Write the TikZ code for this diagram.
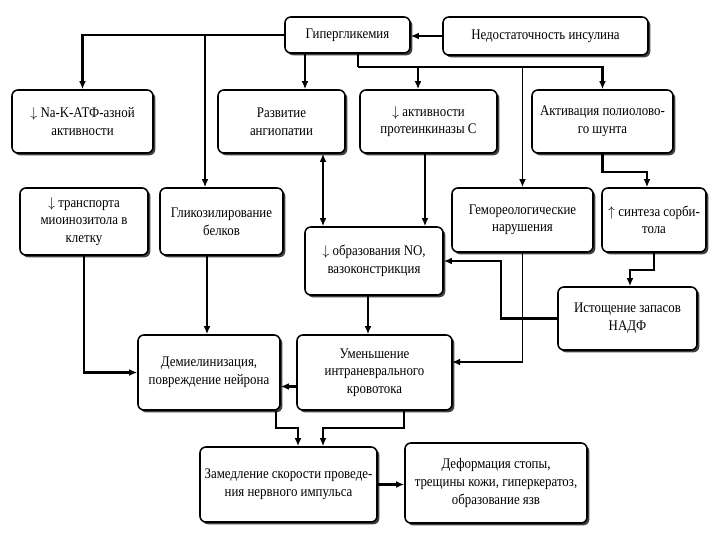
\documentclass[tikz,border=0pt]{standalone}
\usepackage{fontspec}
\setmainfont{Liberation Serif}[FakeStretch=0.88]
\usetikzlibrary{
    positioning,  % For placing nodes relative to each other
    arrows.meta,  % For modern arrow tips
    shadows       % For the drop shadows of the boxes
}

\begin{document}
\begin{tikzpicture}[
    % Global settings: one unit is one pixel of the 720x540 page
    x=0.03cm, y=-0.03cm,
    % Style for the rounded boxes
    box_style/.style={
        draw,
        line width=1.3pt,
        rounded corners=5pt,
        fill=white,
        align=center,
        inner sep=2pt,
        font=\fontsize{12.5}{15}\selectfont,
        drop shadow={shadow xshift=2pt, shadow yshift=-2pt, fill=black!75, opacity=1}
    },
    % Style for arrowheads
    arrow_tip/.style={
        -{Latex[length=2.4mm, width=2mm]}
    },
    arrow_both/.style={
        {Latex[length=2.4mm, width=2mm]}-{Latex[length=2.4mm, width=2mm]}
    },
    % Styles for the connectors
    main_line/.style={line width=2pt},
    thin_line/.style={line width=1.5pt}
]
    \useasboundingbox (0,0) rectangle (720,540);

    % 1. Top row of boxes
    \node[box_style, minimum width=3.75cm, minimum height=1.08cm] (hyper) at (347.5,35) {Гипергликемия};
    \node[box_style, minimum width=6.15cm, minimum height=1.14cm] (insul) at (545.5,36) {Недостаточность инсулина};

    \node[box_style, minimum width=4.23cm, minimum height=1.89cm] (nak) at (82.5,121.5) {$\downarrow$ Na-K-АТФ-азной \\ активности};
    \node[box_style, minimum width=3.81cm, minimum height=1.89cm] (angio) at (281.5,121.5) {Развитие \\ ангиопатии};
    \node[box_style, minimum width=4.11cm, minimum height=1.89cm] (pkc) at (428.5,121.5) {$\downarrow$ активности \\ протеинкиназы С};
    \node[box_style, minimum width=4.23cm, minimum height=1.89cm] (poliol) at (602.5,121.5) {Активация полиолово- \\ го шунта};

    % 2. Middle boxes
    \node[box_style, minimum width=3.84cm, minimum height=2.01cm] (mio) at (84,221.5) {$\downarrow$ транспорта \\ миоинозитола в \\ клетку};
    \node[box_style, minimum width=3.69cm, minimum height=2.01cm] (glyc) at (221.5,221.5) {Гликозилирование \\ белков};
    \node[box_style, minimum width=4.14cm, minimum height=2.04cm] (no) at (374,261) {$\downarrow$ образования NO, \\ вазоконстрикция};
    \node[box_style, minimum width=4.23cm, minimum height=1.92cm] (hemo) at (522.5,220) {Гемореологические \\ нарушения};
    \node[box_style, minimum width=3.12cm, minimum height=1.92cm] (sorb) at (654,220) {$\uparrow$ синтеза сорби- \\ тола};
    \node[box_style, minimum width=4.17cm, minimum height=1.89cm] (nadf) at (627.5,318.5) {Истощение запасов \\ НАДФ};

    % 3. Bottom boxes
    \node[box_style, minimum width=4.26cm, minimum height=2.25cm] (demi) at (209,372.5) {Демиелинизация, \\ повреждение нейрона};
    \node[box_style, minimum width=4.65cm, minimum height=2.25cm] (flow) at (374.5,372.5) {Уменьшение \\ интраневрального \\ кровотока};
    \node[box_style, minimum width=5.31cm, minimum height=2.25cm] (slow) at (288.5,484.5) {Замедление скорости проведе- \\ ния нервного импульса};
    \node[box_style, minimum width=5.46cm, minimum height=2.40cm] (deform) at (496,483) {Деформация стопы, \\ трещины кожи, гиперкератоз, \\ образование язв};

    % 4. Helper coordinates for the bends and the off-centre connectors
    \coordinate (glyc_x) at (205,0);
    \coordinate (angio_x) at (305,0);
    \coordinate (trunk) at (358,67);
    \coordinate (pkc_x) at (418,0);
    \coordinate (vaso_x) at (323,0);
    \coordinate (pkc_no_x) at (425,0);
    \coordinate (sorb_bend) at (647,172);
    \coordinate (nadf_bend) at (630,270);
    \coordinate (no_bend) at (501,261);
    \coordinate (flow_in) at (452,362);
    \coordinate (no_x) at (368,0);
    \coordinate (demi_x) at (207,0);
    \coordinate (slow_a) at (276,428);
    \coordinate (slow_a_in) at (298,428);
    \coordinate (slow_b) at (404,428);
    \coordinate (slow_b_in) at (323,428);

    % 5. Connectors from the top row
    \draw[thin_line, arrow_tip] (insul.west) -- (insul.west -| hyper.east);
    \draw[main_line, arrow_tip] (hyper.west) -| (nak.north);
    \draw[main_line, arrow_tip] (hyper.west -| glyc_x) -- (glyc.north -| glyc_x);
    \draw[main_line, arrow_tip] (hyper.south -| angio_x) -- (angio.north -| angio_x);
    \draw[thin_line] (hyper.south -| trunk) -- (trunk);
    \draw[main_line, arrow_tip] (trunk) -| (poliol.north);
    \draw[main_line, arrow_tip] (trunk -| pkc_x) -- (pkc.north -| pkc_x);
    \draw[thin_line, arrow_tip] (trunk -| hemo.north) -- (hemo.north);

    % 6. Connectors in the middle
    \draw[main_line, arrow_both] (angio.south -| vaso_x) -- (no.north -| vaso_x);
    \draw[main_line, arrow_tip] (pkc.south -| pkc_no_x) -- (no.north -| pkc_no_x);
    \draw[main_line, arrow_tip] (poliol.south) |- (sorb_bend) -- (sorb_bend |- sorb.north);
    \draw[main_line, arrow_tip] (sorb.south) |- (nadf_bend) -- (nadf_bend |- nadf.north);
    \draw[main_line, arrow_tip] (nadf.west) -| (no_bend) -- (no_bend -| no.east);
    \draw[thin_line, arrow_tip] (hemo.south) |- (flow_in);
    \draw[main_line, arrow_tip] (no.south -| no_x) -- (flow.north -| no_x);
    \draw[main_line, arrow_tip] (mio.south) |- (demi.west);
    \draw[main_line, arrow_tip] (glyc.south -| demi_x) -- (demi.north -| demi_x);
    \draw[main_line, arrow_tip] ([yshift=-0.42cm]flow.west) -- ([yshift=-0.42cm]flow.west -| demi.east);

    % 7. Connectors at the bottom
    \draw[main_line, arrow_tip] (demi.south -| slow_a) -- (slow_a) -- (slow_a_in) -- (slow_a_in |- slow.north);
    \draw[main_line, arrow_tip] (flow.south -| slow_b) -- (slow_b) -- (slow_b_in) -- (slow_b_in |- slow.north);
    \draw[main_line, arrow_tip] (slow.east) -- (slow.east -| deform.west);

\end{tikzpicture}
\end{document}
